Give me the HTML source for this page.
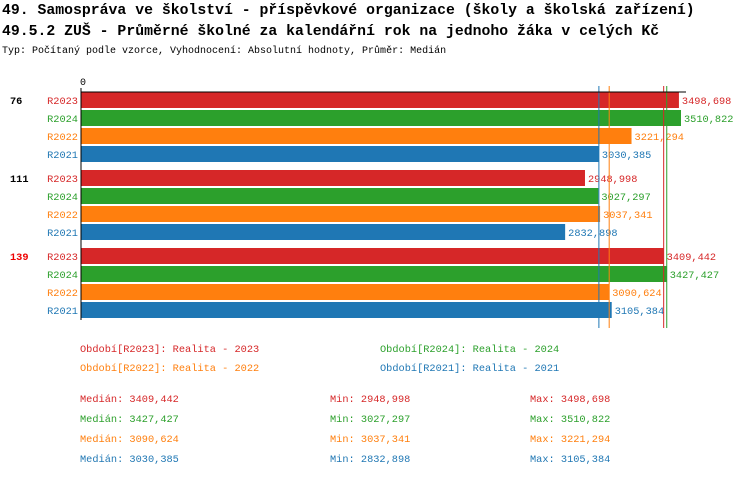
<!DOCTYPE html>
<html><head><meta charset="utf-8"><style>
body{margin:0;background:#fff;width:750px;height:476px;overflow:hidden;font-family:"Liberation Mono",monospace}
</style></head><body>
<svg width="750" height="476" xmlns="http://www.w3.org/2000/svg" font-family="Liberation Mono, monospace">
<text x="2" y="14" font-size="14.8" font-weight="bold">49. Samospráva ve školství - příspěvkové organizace (školy a školská zařízení)</text>
<text x="2" y="35" font-size="14.8" font-weight="bold">49.5.2 ZUŠ - Průměrné školné za kalendářní rok na jednoho žáka v celých Kč</text>
<text x="2" y="53" font-size="10">Typ: Počítaný podle vzorce, Vyhodnocení: Absolutní hodnoty, Průměr: Medián</text>
<g id="plot"></g>
<g id="legend"></g>
</svg>
<script>
const groups=['76','111','139'];
const groupColors=['#000','#000','#e00'];
const series=['R2023','R2024','R2022','R2021'];
const colors=['#d62728','#2ca02c','#ff7f0e','#1f77b4'];
const values=[[3498.698,3510.822,3221.294,3030.385],[2948.998,3027.297,3037.341,2832.898],[3409.442,3427.427,3090.624,3105.384]];
const medians=[3409.442,3427.427,3090.624,3030.385];
const mins=[2948.998,3027.297,3037.341,2832.898];
const maxs=[3498.698,3510.822,3221.294,3105.384];
const legendLabels=['Období[R2023]: Realita - 2023','Období[R2024]: Realita - 2024','Období[R2022]: Realita - 2022','Období[R2021]: Realita - 2021'];
const NS='http://www.w3.org/2000/svg';
const x0=81, maxV=3510.822, W=600, FS=10.3;
const xs=v=>x0+v/maxV*W;
const fmt=v=>v.toFixed(3).replace('.',',');
const plot=document.getElementById('plot'), leg=document.getElementById('legend');
function mk(p,tag,a,txt){const e=document.createElementNS(NS,tag);for(const k in a)e.setAttribute(k,a[k]);if(txt!==undefined)e.textContent=txt;p.appendChild(e);return e;}
let t=mk(plot,'text',{x:x0-1,y:85,'font-size':10},'0');


groups.forEach((g,gi)=>{
  const gy=92+gi*78;
  let gl=mk(plot,'text',{x:10,y:gy+12,'font-size':FS,'font-weight':'bold',fill:groupColors[gi]},g);
  
  
  series.forEach((s,si)=>{
    const y=gy+si*18, v=values[gi][si];
    let r=mk(plot,'rect',{x:x0,y:y,width:xs(v)-x0,height:16,fill:colors[si]});
    
    
    let l=mk(plot,'text',{x:78,y:y+12,'font-size':FS,fill:colors[si],'text-anchor':'end'},s);
    
    
    let vl=mk(plot,'text',{x:xs(v)+3,y:y+12,'font-size':FS,fill:colors[si]},fmt(v));
    
    
  });
});
medians.forEach((m,i)=>{
  let ln=mk(plot,'line',{x1:xs(m),x2:xs(m),y1:86,y2:328,stroke:colors[i],'stroke-width':1});
  
  
});
let ax=mk(plot,'line',{x1:x0,x2:686,y1:92,y2:92,stroke:'#000','stroke-width':1});


let ay=mk(plot,'line',{x1:x0,x2:x0,y1:88,y2:320,stroke:'#000','stroke-width':1});


legendLabels.forEach((s,i)=>{
  let e=mk(leg,'text',{x:80+(i%2)*300,y:352+Math.floor(i/2)*19,'font-size':FS,fill:colors[i]},s);
  
  
});
series.forEach((s,i)=>{
  const y=402+i*20;
  let a=mk(leg,'text',{x:80,y:y,'font-size':FS,fill:colors[i]},'Medián: '+fmt(medians[i]));
  
  
  let b=mk(leg,'text',{x:330,y:y,'font-size':FS,fill:colors[i]},'Min: '+fmt(mins[i]));
  
  
  let c=mk(leg,'text',{x:530,y:y,'font-size':FS,fill:colors[i]},'Max: '+fmt(maxs[i]));
  
  
});
</script>
</body></html>
